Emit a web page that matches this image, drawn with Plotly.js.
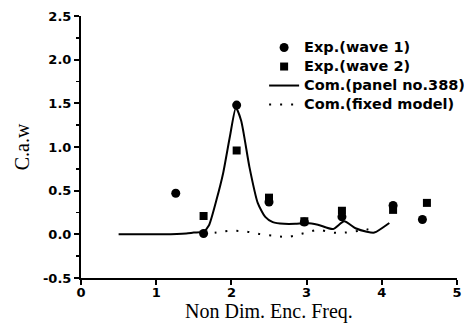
<!DOCTYPE html>
<html>
<head>
<meta charset="utf-8">
<script src="https://cdn.plot.ly/plotly-3.0.1.min.js"></script>
<style>html,body{margin:0;padding:0;background:#fff;}#chart{width:464px;height:333px;}</style>
</head>
<body>
<div id="chart"></div>
<script>
// Experimental data
const wave1X = [1.26, 1.63, 2.07, 2.5, 2.97, 3.47, 4.15, 4.54];
const wave1Y = [0.47, 0.01, 1.48, 0.37, 0.14, 0.20, 0.33, 0.17];
const wave2X = [1.63, 2.07, 2.5, 2.97, 3.47, 4.15, 4.6];
const wave2Y = [0.21, 0.96, 0.42, 0.15, 0.27, 0.28, 0.36];
// Computation (panel no.388)
const panelX = [0.5, 0.8, 1.1, 1.4, 1.5, 1.63, 1.7, 1.8, 1.89, 1.98, 2.06, 2.13, 2.24, 2.35, 2.45, 2.55, 2.7, 2.85, 3.0, 3.15, 3.35, 3.5, 3.65, 3.8, 3.9, 4.1];
const panelY = [0.0, 0.0, 0.0, 0.01, 0.02, 0.03, 0.1, 0.39, 0.7, 1.12, 1.45, 1.3, 0.77, 0.36, 0.2, 0.14, 0.12, 0.12, 0.13, 0.11, 0.06, 0.15, 0.07, 0.03, 0.02, 0.13];
// Computation (fixed model)
const fixedX = [1.63, 1.8, 2.0, 2.2, 2.4, 2.6, 2.75, 2.9, 3.0, 3.15, 3.35, 3.5, 3.7, 3.9];
const fixedY = [0.0, 0.02, 0.04, 0.03, 0.0, -0.02, -0.03, 0.0, 0.02, 0.05, 0.02, 0.02, 0.04, 0.07];

const names = ['Exp.(wave 1)', 'Exp.(wave 2)', 'Com.(panel no.388)', 'Com.(fixed model)'];
const xTicks = [0, 1, 2, 3, 4, 5];
const yTicks = [-0.5, 0.0, 0.5, 1.0, 1.5, 2.0, 2.5];

const big = s => '<span style="font-size:14.5px">' + s + '</span>';

const traces = [
  {x: wave1X, y: wave1Y, name: big(names[0]), type: 'scatter', mode: 'markers',
   marker: {symbol: 'circle', size: 9, color: '#000'}},
  {x: wave2X, y: wave2Y, name: big(names[1]), type: 'scatter', mode: 'markers',
   marker: {symbol: 'square', size: 8, color: '#000'}},
  {x: panelX, y: panelY, name: big(names[2]), type: 'scatter', mode: 'lines',
   line: {color: '#000', width: 2, shape: 'spline', smoothing: 0.6}},
  {x: fixedX, y: fixedY, name: big(names[3]), type: 'scatter', mode: 'lines',
   line: {color: '#000', width: 2, dash: '2px,9px', shape: 'spline'}}
];

const tickFont = {family: 'DejaVu Sans, sans-serif', size: 13, color: '#000', weight: 'bold'};
const titleFont = {family: 'Liberation Serif, Times New Roman, serif', size: 20, color: '#000'};

const layout = {
  width: 464, height: 333,
  margin: {l: 81, r: 7, t: 16, b: 55, autoexpand: false},
  paper_bgcolor: '#fff', plot_bgcolor: '#fff',
  showlegend: true,
  legend: {x: 0.487, y: 0.935, xanchor: 'left', yanchor: 'top', bgcolor: 'rgba(0,0,0,0)',
           font: {family: 'DejaVu Sans, sans-serif', size: 12, color: '#000', weight: 'bold'},
           tracegroupgap: 0, itemwidth: 30},
  xaxis: {range: [0, 5], tickvals: xTicks, ticktext: xTicks.map(String),
          showgrid: false, zeroline: false, showline: true, linecolor: '#000', linewidth: 2,
          ticks: 'outside', ticklen: 5, tickwidth: 2, tickcolor: '#000', ticklabelstandoff: -4,
          tickfont: tickFont,
          title: {text: 'Non Dim. Enc. Freq.', standoff: 5, font: titleFont}},
  yaxis: {range: [-0.5, 2.5], tickvals: yTicks, ticktext: yTicks.map(v => v.toFixed(1)),
          showgrid: false, zeroline: false, showline: true, linecolor: '#000', linewidth: 2,
          ticks: 'outside', ticklen: 5, tickwidth: 2, tickcolor: '#000',
          minor: {dtick: 0.25, ticklen: 3, tickwidth: 1.5, tickcolor: '#000', ticks: 'outside', showgrid: false},
          tickfont: tickFont,
          title: {text: 'C.a.w', standoff: 8, font: titleFont}}
};

Plotly.newPlot('chart', traces, layout, {displayModeBar: false, staticPlot: true});
</script>
</body>
</html>
